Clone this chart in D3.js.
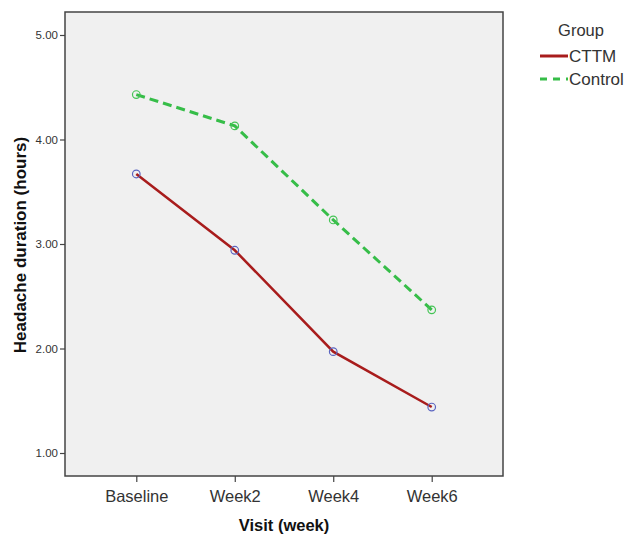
<!DOCTYPE html>
<html><head><meta charset="utf-8">
<script src="https://cdn.jsdelivr.net/npm/d3@7"></script>
<style>body{margin:0;background:#fff;}svg{display:block;font-family:Arial,"Liberation Sans",sans-serif;}</style>
</head><body>
<svg id="c" width="627" height="537"></svg>
<script>
const visits = ["Baseline", "Week2", "Week4", "Week6"];
const cttm = [3.67, 2.94, 1.97, 1.44];
const control = [4.43, 4.13, 3.23, 2.37];
const yTicks = [1, 2, 3, 4, 5];
const groups = ["CTTM", "Control"];

const svg = d3.select("#c");
const L = 65, T = 12, R = 503, B = 476;
const x = d3.scalePoint().domain(visits).range([L, R]).padding(0.724);
const y = d3.scaleLinear().domain([0.78, 5.22]).range([B, T]);

svg.append("rect").attr("x", L).attr("y", T).attr("width", R - L).attr("height", B - T)
  .attr("fill", "#f0f0f0").attr("stroke", "#444").attr("stroke-width", 1.5);

const ya = svg.append("g").attr("transform", `translate(${L},0)`)
  .call(d3.axisLeft(y).tickValues(yTicks).tickFormat(d3.format(".2f")).tickSize(5).tickPadding(2));
ya.select(".domain").remove();
ya.selectAll("line").attr("stroke", "#444").attr("stroke-width", 1.2);
ya.selectAll("text").attr("font-size", 11.5).attr("fill", "#333");

const xa = svg.append("g").attr("transform", `translate(0,${B})`)
  .call(d3.axisBottom(x).tickSize(6).tickPadding(8));
xa.select(".domain").remove();
xa.selectAll("line").attr("stroke", "#444").attr("stroke-width", 1.2);
xa.selectAll("text").attr("font-size", 16.5).attr("fill", "#333");

svg.append("text").attr("x", 284).attr("y", 531).attr("text-anchor", "middle")
  .attr("font-size", 16.5).attr("font-weight", "bold").attr("fill", "#111").text("Visit (week)");
svg.append("text").attr("transform", "translate(26,245) rotate(-90)").attr("text-anchor", "middle")
  .attr("font-size", 17).attr("font-weight", "bold").attr("fill", "#111").text("Headache duration (hours)");

const line = d3.line().x((d, i) => x(visits[i])).y(d => y(d));
svg.append("path").datum(control).attr("d", line).attr("fill", "none")
  .attr("stroke", "#36bd48").attr("stroke-width", 3).attr("stroke-dasharray", "9,5");
svg.append("path").datum(cttm).attr("d", line).attr("fill", "none")
  .attr("stroke", "#a81c1c").attr("stroke-width", 2.5);

svg.selectAll(".pc").data(control).enter().append("circle")
  .attr("cx", (d, i) => x(visits[i])).attr("cy", d => y(d)).attr("r", 3.8)
  .attr("fill", "none").attr("stroke", "#44c455").attr("stroke-width", 1.2);
svg.selectAll(".pt").data(cttm).enter().append("circle")
  .attr("cx", (d, i) => x(visits[i])).attr("cy", d => y(d)).attr("r", 3.8)
  .attr("fill", "none").attr("stroke", "#5a64c0").attr("stroke-width", 1.2);

// legend
svg.append("text").attr("x", 581).attr("y", 36).attr("text-anchor", "middle")
  .attr("font-size", 16.5).attr("fill", "#333").text("Group");
const lg = [{name: groups[0], color: "#a81c1c", dash: null, y: 56},
            {name: groups[1], color: "#36bd48", dash: "7,6", y: 79}];
lg.forEach(g => {
  svg.append("line").attr("x1", 540).attr("x2", 568).attr("y1", g.y).attr("y2", g.y)
    .attr("stroke", g.color).attr("stroke-width", 3).attr("stroke-dasharray", g.dash);
  svg.append("text").attr("x", 569).attr("y", g.y + 6).attr("font-size", 17)
    .attr("fill", "#333").text(g.name);
});
</script>
</body></html>
